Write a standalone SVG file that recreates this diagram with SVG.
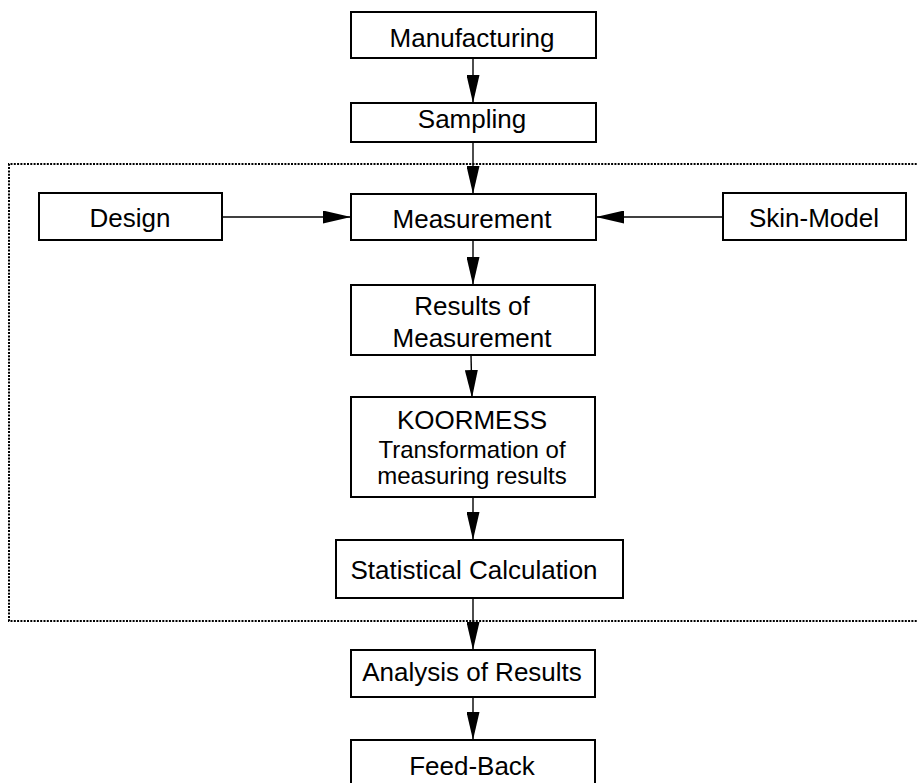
<svg xmlns="http://www.w3.org/2000/svg" width="917" height="783" viewBox="0 0 917 783">
<style>
.box{fill:#fff;stroke:#000;stroke-width:2}
.t{font-family:"Liberation Sans",Arial,sans-serif;font-size:26px;fill:#000;text-anchor:middle}
.s{font-size:24px}
.c{stroke:#000;stroke-width:1.4;fill:none;marker-end:url(#ah)}
.frame{fill:none;stroke:#000;stroke-width:2;stroke-dasharray:2 1.3}
</style>
<defs>
<marker id="ah" markerUnits="userSpaceOnUse" markerWidth="28" markerHeight="13" refX="28" refY="6.5" orient="auto">
<path d="M0,0 L28,6.5 L0,13 z" fill="#000"/>
</marker>
</defs>
<rect width="917" height="783" fill="#fff"/>
<path id="frame" class="frame" d="M920,164 H9 V621 H920"/>
<g id="connectors">
<line class="c" x1="473" y1="58" x2="473" y2="103"/>
<line class="c" x1="473" y1="142" x2="473" y2="194"/>
<line class="c" x1="222" y1="217" x2="351" y2="217"/>
<line class="c" x1="723" y1="217" x2="596" y2="217"/>
<line class="c" x1="473" y1="240" x2="473" y2="285"/>
<line class="c" x1="471" y1="355" x2="472" y2="398"/>
<line class="c" x1="473" y1="497" x2="473" y2="540"/>
<line class="c" x1="473" y1="598" x2="473" y2="650"/>
<line class="c" x1="473" y1="697" x2="473" y2="740"/>
</g>
<g id="manufacturing"><rect class="box" x="351" y="12" width="245" height="46"/><text class="t" x="472" y="47">Manufacturing</text></g>
<g id="sampling"><rect class="box" x="351" y="103" width="245" height="39"/><text class="t" x="472" y="128">Sampling</text></g>
<g id="design"><rect class="box" x="39" y="193" width="183" height="47"/><text class="t" x="130" y="227">Design</text></g>
<g id="measurement"><rect class="box" x="351" y="194" width="245" height="46"/><text class="t" x="472" y="228">Measurement</text></g>
<g id="skin-model"><rect class="box" x="723" y="193" width="183" height="47"/><text class="t" x="814" y="227">Skin-Model</text></g>
<g id="results"><rect class="box" x="351" y="285" width="244" height="70"/><text class="t" x="472" y="315">Results of</text><text class="t" x="472" y="347">Measurement</text></g>
<g id="koormess"><rect class="box" x="351" y="397" width="244" height="100"/><text class="t" x="472" y="429">KOORMESS</text><text class="t s" x="472" y="458">Transformation of</text><text class="t s" x="472" y="484">measuring results</text></g>
<g id="statistical"><rect class="box" x="336" y="540" width="287" height="58"/><text class="t" x="474" y="579">Statistical Calculation</text></g>
<g id="analysis"><rect class="box" x="351" y="650" width="244" height="47"/><text class="t" x="472" y="681">Analysis of Results</text></g>
<g id="feedback"><rect class="box" x="351" y="740" width="244" height="60"/><text class="t" x="472" y="775">Feed-Back</text></g>
</svg>
